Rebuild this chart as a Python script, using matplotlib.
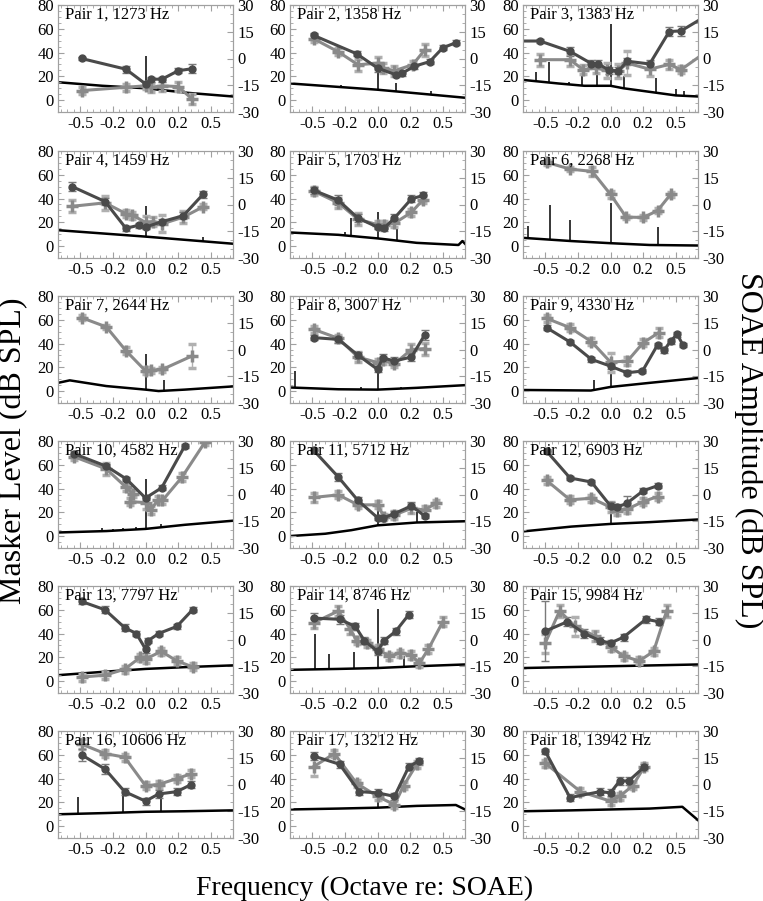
import numpy as np
import matplotlib
matplotlib.use("Agg")
import matplotlib.pyplot as plt
from matplotlib.ticker import FormatStrFormatter, MultipleLocator

plt.rcParams['font.family'] = ['Liberation Serif', 'DejaVu Serif']
plt.rcParams['axes.unicode_minus'] = False

TITLES = ["Pair 1, 1273 Hz", "Pair 2, 1358 Hz", "Pair 3, 1383 Hz",
          "Pair 4, 1459 Hz", "Pair 5, 1703 Hz", "Pair 6, 2268 Hz",
          "Pair 7, 2644 Hz", "Pair 8, 3007 Hz", "Pair 9, 4330 Hz",
          "Pair 10, 4582 Hz", "Pair 11, 5712 Hz", "Pair 12, 6903 Hz",
          "Pair 13, 7797 Hz", "Pair 14, 8746 Hz", "Pair 15, 9984 Hz",
          "Pair 16, 10606 Hz", "Pair 17, 13212 Hz", "Pair 18, 13942 Hz"]

# dark series (circles), masker level in dB SPL vs octave re: SOAE
DARK_X = [
    [-0.49, -0.15, 0.0, 0.045, 0.126, 0.25, 0.356],
    [-0.49, -0.16, 0.0, 0.14, 0.19, 0.28, 0.40, 0.50, 0.60],
    [-0.75, -0.54, -0.31, -0.146, -0.096, -0.01, 0.06, 0.13, 0.30, 0.45, 0.54, 0.75],
    [-0.56, -0.31, -0.15, -0.05, 0.0, 0.13, 0.29, 0.44],
    [-0.49, -0.30, -0.15, 0.0, 0.05, 0.13, 0.26, 0.35],
    [],
    [],
    [-0.49, -0.30, -0.15, 0.0, 0.04, 0.13, 0.26, 0.36],
    [-0.49, -0.31, -0.146, 0.0, 0.126, 0.245, 0.36, 0.41, 0.46, 0.51, 0.555],
    [-0.545, -0.30, -0.146, 0.0, 0.124, 0.30],
    [-0.49, -0.30, -0.15, 0.0, 0.04, 0.13, 0.26, 0.36],
    [-0.49, -0.31, -0.146, 0.0, 0.05, 0.126, 0.25, 0.36],
    [-0.49, -0.31, -0.16, -0.07, 0.0, 0.02, 0.10, 0.24, 0.36],
    [-0.49, -0.29, -0.17, -0.10, 0.0, 0.05, 0.14, 0.24],
    [-0.50, -0.33, -0.20, -0.08, 0.0, 0.10, 0.27, 0.37],
    [-0.49, -0.31, -0.16, 0.0, 0.10, 0.24, 0.35],
    [-0.49, -0.29, -0.14, 0.0, 0.13, 0.24, 0.32],
    [-0.50, -0.31, -0.08, 0.0, 0.07, 0.14, 0.26],
]
DARK_Y = [
    [35, 26, 13.6, 17.6, 17.6, 24.7, 26.4],
    [54.5, 39, 27, 21.3, 22.7, 28.4, 32.4, 44, 48.3],
    [49.7, 49.7, 41, 30.7, 30.7, 25, 24.7, 32.7, 30.4, 57.7, 58.2, 72],
    [50, 37.5, 15, 17.6, 16, 20.7, 25.6, 43.5],
    [47, 38.6, 23.6, 16, 15, 23.6, 39.8, 42.6],
    [],
    [],
    [45, 43.5, 30.3, 18.3, 28, 25.3, 28.7, 47],
    [53.4, 41.3, 26.7, 21, 15.4, 16.9, 38.8, 34.3, 42, 47.8, 38.8],
    [69.2, 58.8, 48, 32, 40.7, 75.7],
    [72.3, 49.7, 30, 15.5, 15, 19, 25.4, 17],
    [71.5, 48.9, 45.5, 25.4, 24.3, 27.7, 38.1, 42.4],
    [67, 60, 45, 40, 27, 34, 40, 46, 60],
    [53, 52, 46, 34, 25, 34, 42, 56],
    [42, 50, 40, 34, 32, 37, 52, 50],
    [60, 48, 29, 21, 27, 29, 35],
    [59, 52, 29, 28, 25, 50, 55],
    [63, 24, 29, 28, 38, 38, 50],
]
DARK_E = [
    [1.5, 3, 2, 2, 2, 2, 4],
    [2, 2, 3, 2, 2, 2, 2, 2, 2],
    [0, 2, 4, 3, 3, 3, 3, 3, 3, 4, 4, 0],
    [4, 3, 2, 2, 2, 2, 3, 3],
    [3, 4, 3, 2, 2, 3, 3, 3],
    [],
    [],
    [2, 3, 3, 2, 3, 3, 3, 4],
    [2, 2, 2, 2, 2, 2, 2, 2, 2, 2, 2],
    [2, 2, 2, 2, 2, 2],
    [2, 3, 3, 2, 2, 2, 3, 2],
    [2, 2, 2, 3, 3, 6, 2, 2],
    [2, 3, 3, 2, 3, 2, 2, 2, 2],
    [4, 4, 3, 3, 3, 3, 3, 3],
    [25, 4, 4, 3, 3, 3, 3, 3],
    [5, 4, 3, 3, 3, 3, 3],
    [3, 3, 3, 3, 3, 3, 2],
    [2, 3, 3, 3, 3, 3, 2],
]

# grey series (crosses)
GREY_X = [
    [-0.49, -0.15, 0.0, 0.045, 0.126, 0.25, 0.356],
    [-0.49, -0.30, -0.15, 0.0, 0.04, 0.13, 0.27, 0.36],
    [-0.54, -0.31, -0.21, -0.11, -0.03, 0.06, 0.13, 0.30, 0.45, 0.54, 0.75],
    [-0.56, -0.31, -0.15, -0.10, 0.0, 0.06, 0.13, 0.29, 0.44],
    [-0.49, -0.30, -0.15, 0.0, 0.05, 0.13, 0.26, 0.35],
    [-0.49, -0.31, -0.14, 0.0, 0.12, 0.25, 0.36, 0.46],
    [-0.49, -0.30, -0.15, 0.0, 0.04, 0.13, 0.355],
    [-0.49, -0.30, -0.15, 0.0, 0.04, 0.13, 0.26, 0.36],
    [-0.49, -0.31, -0.146, 0.0, 0.13, 0.25, 0.37],
    [-0.545, -0.30, -0.15, -0.096, -0.12, 0.0, 0.043, 0.093, 0.13, 0.28, 0.455],
    [-0.49, -0.30, -0.15, 0.0, 0.05, 0.13, 0.26, 0.36, 0.45],
    [-0.49, -0.31, -0.146, 0.0, 0.05, 0.126, 0.25, 0.36],
    [-0.49, -0.31, -0.16, -0.04, 0.0, 0.12, 0.24, 0.36],
    [-0.49, -0.30, -0.21, -0.16, -0.08, 0.0, 0.09, 0.17, 0.26, 0.32, 0.39, 0.50],
    [-0.50, -0.39, -0.27, -0.12, 0.0, 0.10, 0.22, 0.33, 0.43],
    [-0.49, -0.31, -0.16, 0.0, 0.10, 0.24, 0.35],
    [-0.49, -0.33, -0.16, 0.0, 0.13, 0.20, 0.30],
    [-0.50, -0.23, 0.0, 0.07, 0.17, 0.26],
]
GREY_Y = [
    [8, 10.8, 12, 10.8, 12, 11.4, 1],
    [51.7, 40.6, 29.8, 31, 27, 24.7, 29.8, 42],
    [34, 34, 25.6, 27, 25, 24.7, 31, 26, 30, 25.6, 42],
    [33.5, 36.4, 27.3, 26, 20, 20.7, 18.8, 24.4, 33],
    [46.3, 36.4, 22.7, 18, 18, 19.3, 28.4, 39.2],
    [70.5, 64.8, 62.8, 43.5, 24.4, 24.1, 29.8, 43.5],
    [61.8, 54, 34, 17, 17.4, 18.3, 29.5],
    [52, 44.4, 28.7, 24, 25.8, 23, 35, 35.7],
    [61.2, 53.4, 41.6, 24.4, 25.3, 40.7, 49.2],
    [66.7, 56.5, 41.2, 35.6, 29, 28.2, 22, 30.5, 30, 49.7, 79],
    [32.5, 34.7, 26.3, 26.3, 16.4, 17.8, 23.4, 22, 27.7],
    [46.9, 30.5, 31.9, 24.3, 21.5, 22.6, 29, 33.3],
    [3.4, 5, 10, 20, 18.5, 25, 17, 12],
    [49, 59, 44, 34, 32, 27, 21, 23.5, 22, 15, 27, 50],
    [32, 59, 46, 38, 29, 21, 17, 25, 59],
    [69, 61, 58, 34, 35, 40, 44],
    [50, 61, 36, 25, 18, 34, 52],
    [53, 29, 21, 25, 34, 50],
]
GREY_E = [
    [3, 3, 3, 4, 4, 4, 4],
    [3, 3, 5, 5, 4, 4, 3, 5],
    [5, 5, 4, 4, 6, 6, 10, 6, 4, 3, 0],
    [5, 6, 3, 3, 5, 4, 7, 5, 2],
    [3, 4, 5, 3, 3, 3, 3, 3],
    [2, 2, 4, 3, 2, 2, 2, 2],
    [2, 2, 3, 3, 2, 2, 10],
    [3, 3, 4, 3, 3, 3, 5, 5],
    [3, 3, 3, 8, 3, 3, 4],
    [3, 5, 3, 3, 3, 5, 3, 3, 3, 3, 2],
    [4, 3, 3, 3, 2, 3, 4, 3, 3],
    [3, 3, 3, 4, 4, 3, 3, 3],
    [3, 3, 3, 3, 3, 3, 3, 3],
    [4, 4, 4, 3, 3, 3, 3, 3, 3, 3, 3, 4],
    [8, 5, 8, 4, 4, 3, 3, 3, 5],
    [4, 3, 3, 3, 3, 3, 3],
    [8, 3, 3, 3, 3, 3, 3],
    [3, 3, 3, 3, 3, 3],
]

# SOAE spectrum (right axis, dB SPL): baseline knots and spectral peaks
SOAE_X = [
    [-0.67, -0.33, 0.0, 0.33, 0.67],
    [-0.67, 0.0, 0.67],
    [-0.67, -0.4, -0.2, 0.0, 0.1, 0.3, 0.5, 0.67],
    [-0.67, 0.0, 0.67],
    [-0.67, -0.3, 0.0, 0.3, 0.62, 0.65, 0.67],
    [-0.67, -0.3, 0.0, 0.3, 0.67],
    [-0.67, -0.58, -0.3, 0.0, 0.1, 0.3, 0.67],
    [-0.67, -0.3, 0.0, 0.3, 0.67],
    [-0.67, -0.15, 0.0, 0.3, 0.67],
    [-0.67, -0.3, 0.0, 0.3, 0.67],
    [-0.67, -0.4, -0.2, 0.0, 0.3, 0.67],
    [-0.67, -0.3, 0.0, 0.3, 0.67],
    [-0.67, -0.3, 0.0, 0.3, 0.67],
    [-0.67, -0.3, 0.0, 0.3, 0.67],
    [-0.67, 0.0, 0.67],
    [-0.67, -0.3, 0.0, 0.3, 0.67],
    [-0.67, -0.3, 0.0, 0.3, 0.6, 0.67],
    [-0.67, -0.3, 0.0, 0.3, 0.55, 0.67],
]
SOAE_Y = [
    [-13.3, -15.3, -16.7, -19.3, -21.3],
    [-14, -17.5, -22],
    [-12, -14, -15.3, -15.3, -16.7, -18.7, -20.7, -21.3],
    [-14.4, -18, -22],
    [-15.7, -17, -19, -21.5, -22.7, -20.5, -22],
    [-18.7, -20.5, -21.7, -22.7, -23],
    [-18.7, -17.3, -20.5, -22.5, -23.3, -22.5, -20.7],
    [-21.3, -22.3, -22.5, -21.5, -20],
    [-22.7, -23, -21, -18.7, -16],
    [-21.3, -20.5, -19.3, -17, -14.7],
    [-23.3, -22, -20, -17.3, -15.7, -15],
    [-20.7, -18, -16.5, -15.5, -14],
    [-20, -18, -16.5, -15.5, -14.5],
    [-17, -16.5, -16, -15, -14],
    [-16, -15, -14],
    [-16.7, -16, -15.3, -15, -14.5],
    [-14, -13.5, -13, -12, -11.5, -14],
    [-15, -14.5, -14, -13.5, -12.5, -20],
]
SPIKE_X = [
    [0.0],
    [-0.28, 0.0, 0.14, 0.41],
    [-0.57, -0.47, -0.32, -0.22, -0.10, 0.0, 0.10, 0.35, 0.50, 0.56],
    [0.0, 0.44],
    [-0.25, -0.20, 0.0, 0.15],
    [-0.63, -0.46, -0.31, 0.0, 0.24, 0.36],
    [0.0, 0.14],
    [-0.63, -0.13, 0.0, 0.18],
    [-0.13, 0.0],
    [-0.33, -0.25, -0.17, -0.07, 0.0, 0.12],
    [0.0, 0.3],
    [0.0],
    [],
    [-0.48, -0.37, -0.18, 0.0, 0.2],
    [],
    [-0.52, -0.17, 0.12],
    [0.0],
    [],
]
SPIKE_Y = [
    [1.3],
    [-14.7, -5.3, -14, -18],
    [-7.3, -2, -13.3, -9.3, -8, 19.3, -10, -10.7, -17.3, -18],
    [-0.7, -18],
    [-15.3, -7.3, -4, -12.7],
    [-12, 0, -8.7, 0.7, -22, -12.7],
    [-2.7, -17.3],
    [-12, -21, -10.7, -21],
    [-17.3, -6.7],
    [-19, -19.3, -19, -18.5, 8.7, -16.5],
    [-8.7, -10],
    [-7],
    [],
    [3, -8, -7, 17.3, -9],
    [],
    [-7, -4, -8],
    [-9],
    [],
]

DARK = '#4a4a4a'
GREY = '#8a8a8a'
SPINE = '#a0a0a0'

fig = plt.figure(figsize=(7.63, 9.01), dpi=100)
W, H = 763.0, 901.0
col_left = [58, 290, 523]
row_top = [5, 151, 296, 441, 586, 731]
aw, ah = 175, 107

for i in range(18):
    r, c = divmod(i, 3)
    ax = fig.add_axes([col_left[c] / W, 1 - (row_top[r] + ah) / H, aw / W, ah / H])
    ax2 = ax.twinx()

    # SOAE spectrum on the right axis
    ax2.plot(SOAE_X[i], SOAE_Y[i], color='black', lw=1.8)
    if SPIKE_X[i]:
        base = np.interp(SPIKE_X[i], SOAE_X[i], SOAE_Y[i])
        ax2.vlines(SPIKE_X[i], base, SPIKE_Y[i], color='black', lw=1.1)
    ax2.set_ylim(-30, 30)
    ax2.set_yticks([-30, -15, 0, 15, 30])
    ax2.yaxis.set_minor_locator(MultipleLocator(5))

    # masking data on the left axis
    if GREY_X[i]:
        ax.errorbar(GREY_X[i], GREY_Y[i], yerr=GREY_E[i], fmt='-+', color=GREY,
                    ecolor='#b0b0b0', elinewidth=1, capsize=3, lw=2.2, ms=8, mew=2.5)
    if DARK_X[i]:
        ax.errorbar(DARK_X[i], DARK_Y[i], yerr=DARK_E[i], fmt='-o', color=DARK,
                    ecolor='#7a7a7a', elinewidth=1, capsize=3, lw=2.2, ms=5)
    ax.set_zorder(ax2.get_zorder() + 1)
    ax.patch.set_visible(False)

    ax.set_xlim(-0.67, 0.67)
    ax.set_ylim(-10, 80)
    ax.set_xticks([-0.5, -0.25, 0.0, 0.25, 0.5])
    ax.xaxis.set_major_formatter(FormatStrFormatter('%.1f'))
    ax.xaxis.set_minor_locator(MultipleLocator(0.05))
    ax.set_yticks([0, 20, 40, 60, 80])
    ax.yaxis.set_minor_locator(MultipleLocator(5))

    for a in (ax, ax2):
        for s in a.spines.values():
            s.set_color(SPINE)
        a.tick_params(which='both', direction='in', color=SPINE, labelsize=12, pad=3)
        a.tick_params(which='major', length=4)
        a.tick_params(which='minor', length=2)
    ax.tick_params(axis='x', which='both', top=True)

    ax.text(0.04, 0.985, TITLES[i], transform=ax.transAxes, ha='left', va='top', fontsize=12)

fig.text(0.018, 0.5, 'Masker Level (dB SPL)', rotation=90, ha='center', va='center', fontsize=23)
fig.text(0.981, 0.5, 'SOAE Amplitude (dB SPL)', rotation=270, ha='center', va='center', fontsize=23)
fig.text(0.478, 0.014, 'Frequency (Octave re: SOAE)', ha='center', va='center', fontsize=20)

fig.savefig('out.png', dpi=100)
